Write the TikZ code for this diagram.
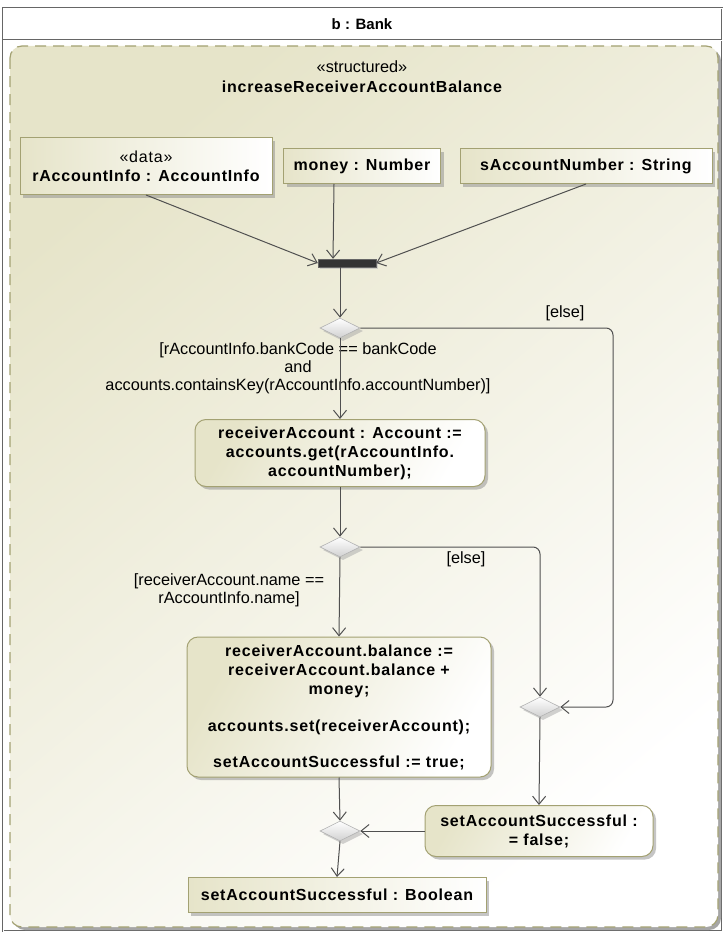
\documentclass[tikz,border=0pt]{standalone}
\usepackage{fontspec}
\setmainfont{Liberation Sans}
\usetikzlibrary{shapes,arrows.meta,shadows,positioning}
\definecolor{regionfill}{HTML}{E6E4C9}
\definecolor{olive}{HTML}{A3A172}
\definecolor{flowgray}{HTML}{505050}
\newcommand{\boldtext}{\fontsize{16}{19}\selectfont\bfseries\addfontfeature{LetterSpace=5}}
\newcommand{\plaintext}{\fontsize{16.3}{18}\selectfont}
\tikzset{every edge/.style={draw,flowgray,line width=1pt,
		-{Straight Barb[length=8pt,width=13pt]}},
	flow/.style={draw,flowgray,line width=1pt,rounded corners=7pt,
		-{Straight Barb[length=8pt,width=13pt]}}}
\tikzstyle{pin}=[rectangle,draw=olive,line width=1pt,left color=regionfill,right color=white,inner sep=0pt,font=\boldtext,align=center,drop shadow={shadow xshift=3pt,shadow yshift=-3pt,fill=black!45}]
\tikzstyle{action}=[rectangle,rounded corners=11pt,draw=olive,line width=1pt,top color=regionfill,bottom color=white,shading angle=60,inner sep=0pt,font=\boldtext,align=center,drop shadow={shadow xshift=3pt,shadow yshift=-3pt,fill=black!45}]
\tikzstyle{choice}=[diamond,draw=black!30,line width=0.6pt,top color=white,bottom color=black!18,inner sep=0pt,minimum width=40pt,minimum height=20pt,drop shadow={shadow xshift=3pt,shadow yshift=-3pt,fill=black!35}]
\tikzstyle{joinbar}=[rectangle,fill=black!80,draw=black!60,inner sep=0pt,minimum width=58pt,minimum height=8pt,drop shadow={shadow xshift=2pt,shadow yshift=-2pt,fill=black!30}]
\tikzstyle{guard}=[align=center,inner sep=0pt,font=\plaintext]

\begin{document}
\begin{tikzpicture}[x=1pt,y=-1pt,font=\plaintext]
	\useasboundingbox (0,0) rectangle (724,934);
	% frame and structured region
	\draw[black!60,double=white,double distance=0.8pt] (3,8) rectangle (722,931);
	\draw[black!60,double=white,double distance=0.8pt] (3,40) -- (722,40);
	\node at (362,24) {\fontsize{15}{18}\selectfont\bfseries b : Bank};
	\fill[black!35,rounded corners=12pt] (13,49) rectangle (721,930);
	\draw[olive,line width=1.2pt,dash pattern=on 11pt off 7pt,rounded corners=12pt,top color=regionfill,bottom color=white,shading angle=40] (10,46) rectangle (718,927);
	\node at (362,67) {«structured»};
	\node at (362,87) {\boldtext increaseReceiverAccountBalance};
	
	\node at (146,166) [pin,minimum width=252pt,minimum height=57pt] (1) {\mdseries «data»\\ rAccountInfo : AccountInfo};
	\node at (362,166) [pin,minimum width=157pt,minimum height=35pt] (2) {money : Number};
	\node at (586,166) [pin,minimum width=252pt,minimum height=35pt] (3) {sAccountNumber : String};
	\node at (347,263) [joinbar] (4) {};
	\node at (340,328) [choice] (5) {};
	\node at (340,453) [action,minimum width=290pt,minimum height=67pt] (6) {receiverAccount : Account :=\\accounts.get(rAccountInfo.\\accountNumber);};
	\node at (340,547) [choice] (7) {};
	\node at (339,707) [action,minimum width=304pt,minimum height=140pt] (8) {receiverAccount.balance :=\\receiverAccount.balance +\\money;\\[18pt]accounts.set(receiverAccount);\\[17pt]setAccountSuccessful := true;};
	\node at (540,707) [choice] (9) {};
	\node at (539,831) [action,minimum width=228pt,minimum height=51pt] (10) {setAccountSuccessful :\\= false;};
	\node at (340,831) [choice] (11) {};
	\node at (337,895) [pin,minimum width=298pt,minimum height=35pt] (12) {setAccountSuccessful : Boolean};
	\coordinate (13) at (613,707);
	
	\node at (298,368) [guard] (14) {[rAccountInfo.bankCode == bankCode\\and\\accounts.containsKey(rAccountInfo.accountNumber)]};
	\node at (229,590) [guard] (15) {[receiverAccount.name ==\\rAccountInfo.name]};
	\node at (565,313) (16) {[else]};
	\node at (466,559) (17) {[else]};
	
	\draw (1.south) edge (4.west);
	\draw ([xshift=-28pt]2.south) edge ([xshift=-14pt]4.north);
	\draw (3.south) edge (4.east);
	\draw ([xshift=-7pt]4.south) edge (5.north);
	\draw (5.south) edge (6.north);
	\draw (6.south) edge (7.north);
	\draw (7.south) edge (8.north);
	\draw (8.south) edge (11.north);
	\draw (11.south) edge (12.north);
	\draw (9.south) edge (10.north);
	\draw (10.west) edge (11.east);
	\draw[flow] (5.east) -| (13) -- (9.east);
	\draw[flow] (7.east) -| (9.north);
\end{tikzpicture}
\end{document}
